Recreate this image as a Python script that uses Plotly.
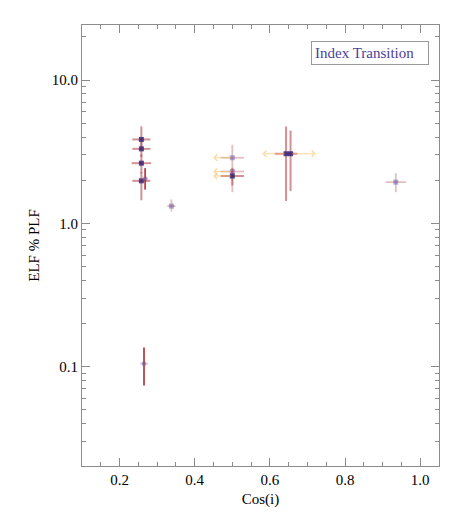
import numpy as np
import plotly.graph_objects as go

# ---- data ----
dark_x = [0.258, 0.258, 0.258, 0.258, 0.500, 0.643, 0.655]
dark_y = [3.85, 3.31, 2.63, 1.98, 2.14, 3.06, 3.06]
dark_ex = [0.024, 0.024, 0.026, 0.024, 0.031, 0.030, 0.010]
dark_eyp = [0.90, 0.40, 0.40, 0.30, 0.30, 1.68, 1.38]
dark_eym = [0.50, 0.40, 0.40, 0.53, 0.30, 1.63, 1.38]

light_x = [0.338, 0.500, 0.500, 0.935]
light_y = [1.32, 2.87, 2.30, 1.94]
light_ex = [0.011, 0.031, 0.031, 0.027]
light_eyp = [0.15, 0.66, 0.05, 0.30]
light_eym = [0.11, 1.22, 0.05, 0.29]

red_x = [0.268, 0.265]
red_y = [2.05, 0.105]
red_ex = [0.008, 0.010]
red_eyp = [0.38, 0.031]
red_eym = [0.33, 0.031]

# x upper/lower limit arrows: start x, y, tip x
arrow_from_x = [0.500, 0.500, 0.500, 0.643, 0.655]
arrow_y = [2.87, 2.30, 2.14, 3.06, 3.06]
arrow_to_x = [0.449, 0.449, 0.449, 0.580, 0.722]

legend_text = "Index Transition"
x_ticks = [0.2, 0.4, 0.6, 0.8, 1.0]
x_ticktext = ["0.2", "0.4", "0.6", "0.8", "1.0"]
y_ticks = [0.1, 1.0, 10.0]
y_ticktext = ["0.1", "1.0", "10.0"]

ERR = "rgba(181,71,79,0.6)"
ERR_LIGHT = "rgba(195,110,120,0.45)"
ERR_RED = "rgba(170,30,40,0.85)"
FONT = "Liberation Serif"

fig = go.Figure()

fig.add_trace(go.Scatter(
    x=light_x, y=light_y, mode="markers",
    marker=dict(symbol="square", size=5, color="rgba(100,85,165,0.5)"),
    error_x=dict(type="data", array=light_ex, color=ERR_LIGHT, thickness=1.8, width=0),
    error_y=dict(type="data", array=light_eyp, arrayminus=light_eym, symmetric=False,
                 color=ERR_LIGHT, thickness=1.8, width=0),
    showlegend=False))

fig.add_trace(go.Scatter(
    x=dark_x, y=dark_y, mode="markers",
    marker=dict(symbol="square", size=5, color="rgba(55,38,120,0.85)"),
    error_x=dict(type="data", array=dark_ex, color=ERR, thickness=2, width=0),
    error_y=dict(type="data", array=dark_eyp, arrayminus=dark_eym, symmetric=False,
                 color=ERR, thickness=2, width=0),
    showlegend=False))

fig.add_trace(go.Scatter(
    x=red_x, y=red_y, mode="markers",
    marker=dict(symbol="square", size=4, color="rgba(100,85,165,0.5)"),
    error_x=dict(type="data", array=red_ex, color=ERR_LIGHT, thickness=1.8, width=0),
    error_y=dict(type="data", array=red_eyp, arrayminus=red_eym, symmetric=False,
                 color=ERR_RED, thickness=1.8, width=0),
    showlegend=False))

for x0, yv, x1 in zip(arrow_from_x, arrow_y, arrow_to_x):
    fig.add_annotation(
        x=x1, y=np.log10(yv), ax=x0, ay=np.log10(yv),
        xref="x", yref="y", axref="x", ayref="y",
        showarrow=True, arrowhead=4, arrowsize=1.1, arrowwidth=1.1,
        arrowcolor="rgba(253,190,90,0.6)", text="")

fig.add_annotation(
    x=0.972, y=0.964, xref="paper", yref="paper", xanchor="right", yanchor="top",
    text=legend_text, showarrow=False, width=110, align="left",
    font=dict(family=FONT, size=15, color="#4b3f99"),
    bordercolor="#999999", borderwidth=1, borderpad=3, bgcolor="white")

axis_common = dict(
    showline=True, linecolor="#8c8c8c", linewidth=1, mirror="ticks",
    ticks="inside", ticklen=8, tickcolor="#8c8c8c", tickwidth=1,
    showgrid=False, zeroline=False,
    tickfont=dict(family=FONT, size=15, color="black"),
)

minor_y = [m * 10.0 ** d for d in (-2, -1, 0, 1) for m in range(2, 10)]

fig.update_xaxes(
    range=[0.1, 1.05], tickvals=x_ticks, ticktext=x_ticktext,
    minor=dict(ticks="inside", dtick=0.05, tick0=0.0, ticklen=4, tickcolor="#8c8c8c"),
    title=dict(text="Cos(i)", font=dict(family=FONT, size=15, color="black"), standoff=6),
    **axis_common)
fig.update_yaxes(
    type="log", range=[np.log10(0.0203), np.log10(24.2)],
    tickvals=y_ticks, ticktext=y_ticktext,
    minor=dict(ticks="inside", tickvals=minor_y, ticklen=4, tickcolor="#8c8c8c"),
    title=dict(text="ELF % PLF", font=dict(family=FONT, size=15, color="black"), standoff=8),
    **axis_common)

fig.update_layout(
    width=455, height=511,
    margin=dict(l=74, r=24, t=17, b=53),
    paper_bgcolor="white", plot_bgcolor="white",
    font=dict(family=FONT, size=15, color="black"),
)

fig.write_html("out.html")
